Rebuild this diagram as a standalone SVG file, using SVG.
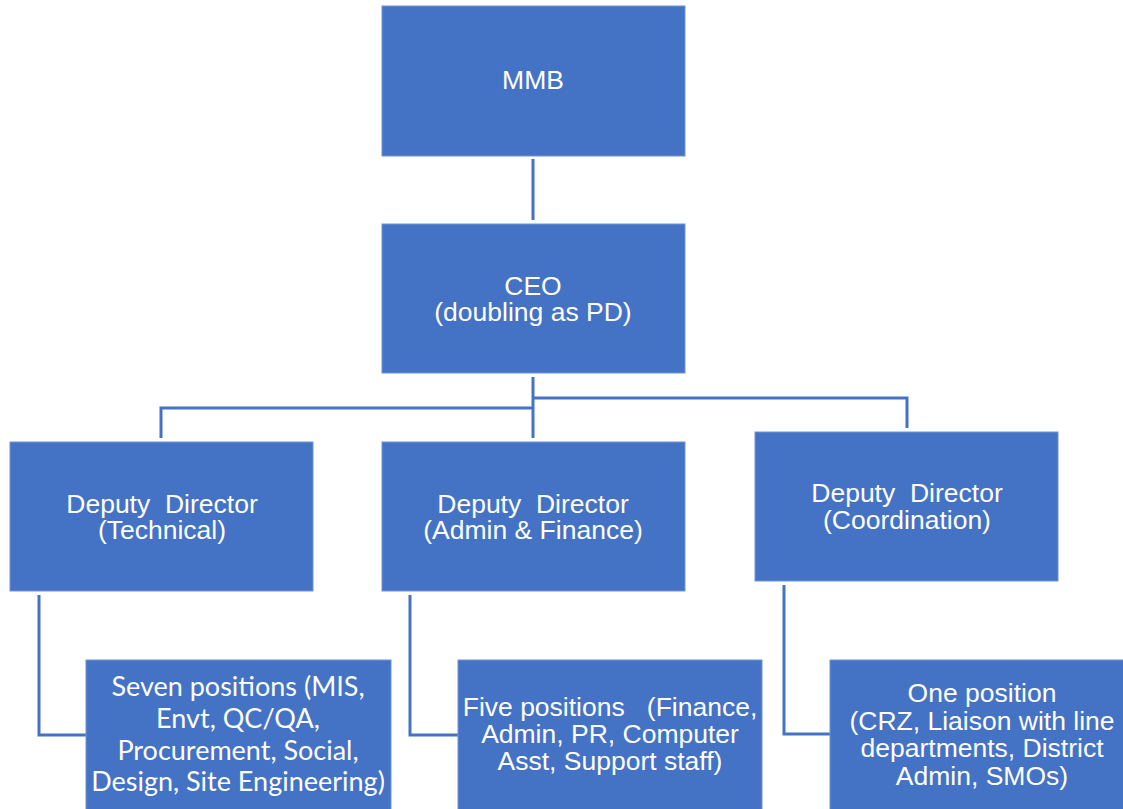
<svg xmlns="http://www.w3.org/2000/svg" width="1123" height="809" viewBox="0 0 1123 809">
<style>
.box{fill:#4472C4;stroke:#6F94D6;stroke-width:1}
.t{fill:#fff;font-family:"Liberation Sans",Arial,sans-serif;font-size:26.5px;text-anchor:middle}
.c{fill:#fff;font-family:Lato,"Open Sans",sans-serif;font-size:27px;text-anchor:middle}
.ln{fill:none;stroke:#4472C4;stroke-width:3}
</style>
<rect width="1123" height="809" fill="#fff"/>
<g id="connectors">
<path class="ln" d="M533 159V220"/>
<path class="ln" d="M533 377V438"/>
<path class="ln" d="M533 408H161V438"/>
<path class="ln" d="M533 398H907V428"/>
<path class="ln" d="M39 595V735H86"/>
<path class="ln" d="M410 595V735H458"/>
<path class="ln" d="M784 585V734H830"/>
</g>
<g id="mmb"><rect class="box" x="382" y="6" width="303" height="150"/><text class="t" x="533" y="89">MMB</text></g>
<g id="ceo"><rect class="box" x="382" y="224" width="303" height="149"/><text class="t" x="533" y="295">CEO</text><text class="t" x="533" y="321">(doubling as PD)</text></g>
<g id="dd-tech"><rect class="box" x="10" y="442" width="303" height="149"/><text class="t" x="162" y="513" xml:space="preserve">Deputy  Director</text><text class="t" x="162" y="539">(Technical)</text></g>
<g id="dd-admin"><rect class="box" x="382" y="442" width="303" height="149"/><text class="t" x="533" y="513" xml:space="preserve">Deputy  Director</text><text class="t" x="533" y="539">(Admin &amp; Finance)</text></g>
<g id="dd-coord"><rect class="box" x="755" y="432" width="303" height="149"/><text class="t" x="907" y="502" xml:space="preserve">Deputy  Director</text><text class="t" x="907" y="529">(Coordination)</text></g>
<g id="seven"><rect class="box" x="86" y="660" width="305" height="152"/>
<text class="c" x="238" y="696">Seven positions (MIS,</text>
<text class="c" x="238" y="728">Envt, QC/QA,</text>
<text class="c" x="238" y="760">Procurement, Social,</text>
<text class="c" x="238" y="791">Design, Site Engineering)</text></g>
<g id="five"><rect class="box" x="458" y="660" width="304" height="152"/>
<text class="t" x="610" y="716" xml:space="preserve">Five positions   (Finance,</text>
<text class="t" x="610" y="743">Admin, PR, Computer</text>
<text class="t" x="610" y="770">Asst, Support staff)</text></g>
<g id="one"><rect class="box" x="830" y="660" width="296" height="152"/>
<text class="t" x="982" y="702">One position</text>
<text class="t" x="982" y="730">(CRZ, Liaison with line</text>
<text class="t" x="982" y="757">departments, District</text>
<text class="t" x="982" y="785">Admin, SMOs)</text></g>
</svg>
